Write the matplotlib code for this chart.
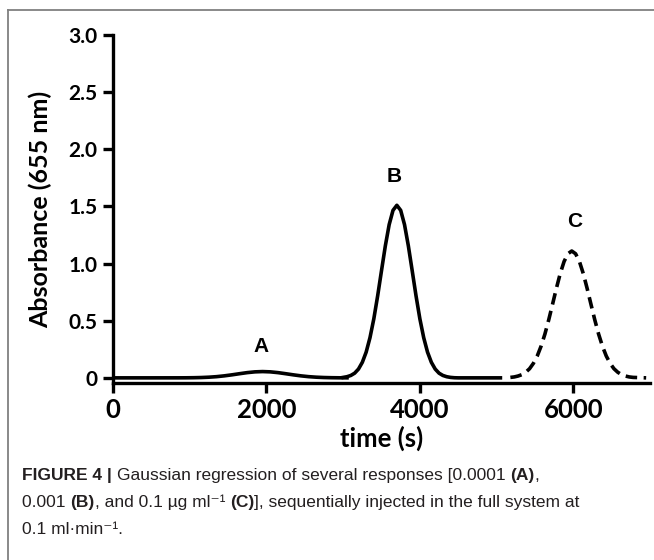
# -*- coding: utf-8 -*-
"""
Figure 4 - Gaussian regression of several responses (A, B, C)
"""

import matplotlib
matplotlib.use("Agg")
import matplotlib.pyplot as plt
from matplotlib.lines import Line2D
from matplotlib import font_manager

# ======================================================================
# 1. DATA
# ======================================================================
time_a = [0, 500, 850, 950, 1050, 1150, 1250, 1350, 1450, 1550, 1650, 1750,
          1850, 1950, 2050, 2150, 2250, 2350, 2450, 2550, 2650, 2750, 2850,
          2950, 3050]
abs_a = [0, 0, 0.0002, 0.0005, 0.0013, 0.0029, 0.0058, 0.0105, 0.0175, 0.0264,
         0.0364, 0.0458, 0.0525, 0.055, 0.0525, 0.0458, 0.0364, 0.0264, 0.0175,
         0.0105, 0.0058, 0.0029, 0.0013, 0.0005, 0.0002]

time_b = [3000, 3050, 3100, 3150, 3200, 3250, 3300, 3350, 3400, 3450, 3500,
          3550, 3600, 3650, 3700, 3750, 3800, 3850, 3900, 3950, 4000, 4050,
          4100, 4150, 4200, 4250, 4300, 4350, 4400, 4450, 4500, 5050]
abs_b = [0.004, 0.010, 0.021, 0.041, 0.077, 0.136, 0.225, 0.352, 0.517, 0.718,
         0.938, 1.155, 1.341, 1.466, 1.51, 1.466, 1.341, 1.155, 0.938, 0.718,
         0.517, 0.352, 0.225, 0.136, 0.077, 0.041, 0.021, 0.010, 0.004, 0.001,
         0, 0]

time_c = [5180, 5230, 5280, 5330, 5380, 5430, 5480, 5530, 5580, 5630, 5680,
          5730, 5780, 5830, 5880, 5930, 5980, 6030, 6080, 6130, 6180, 6230,
          6280, 6330, 6380, 6430, 6480, 6530, 6580, 6630, 6680, 6730, 6780,
          6950]
abs_c = [0.004, 0.008, 0.016, 0.028, 0.049, 0.080, 0.127, 0.191, 0.277, 0.383,
         0.508, 0.645, 0.784, 0.913, 1.018, 1.086, 1.11, 1.086, 1.018, 0.913,
         0.784, 0.645, 0.508, 0.383, 0.277, 0.191, 0.127, 0.080, 0.049, 0.028,
         0.016, 0.008, 0.004, 0]

peak_labels = ["A", "B", "C"]
peak_label_x = [1930, 3660, 6020]
peak_label_y = [0.27, 1.76, 1.37]

x_ticks = [0, 2000, 4000, 6000]
y_ticks = [0, 0.5, 1.0, 1.5, 2.0, 2.5, 3.0]
y_tick_labels = ["0", "0.5", "1.0", "1.5", "2.0", "2.5", "3.0"]

caption_lines = [
    [("FIGURE 4 | ", "bold"),
     ("Gaussian regression of several responses [0.0001 ", "normal"),
     ("(A)", "bold"), (",", "normal")],
    [("0.001 ", "normal"), ("(B)", "bold"),
     (", and 0.1 µg ml\u207b\u00b9 ", "normal"), ("(C)", "bold"),
     ("], sequentially injected in the full system at", "normal")],
    [("0.1 ml·min\u207b\u00b9.", "normal")],
]

# ======================================================================
# 2. FIGURE
# ======================================================================
W, H = 654, 560
fig = plt.figure(figsize=(W / 100, H / 100), dpi=100)

# thin frame (top and left)
fig.add_artist(Line2D([8 / W, 1], [1 - 10 / H, 1 - 10 / H], color="#808080", lw=1.3))
fig.add_artist(Line2D([8 / W, 8 / W], [0, 1 - 10 / H], color="#808080", lw=1.3))

ax = fig.add_axes([113 / W, 1 - 383 / H, 537 / W, 348 / H])

LW = 2.6
ax.plot(time_a, abs_a, color="black", lw=LW, solid_joinstyle="round")
ax.plot(time_b, abs_b, color="black", lw=LW, solid_joinstyle="round")
ax.plot(time_c, abs_c, color="black", lw=LW, linestyle=(0, (3.2, 1.8)))

for lab, lx, ly in zip(peak_labels, peak_label_x, peak_label_y):
    ax.text(lx, ly, lab, ha="center", va="center", fontsize=15,
            fontweight="bold", family="Liberation Sans")

ax.set_xlim(0, 7000)
ax.set_ylim(-0.045, 3.0)
for s in ("top", "right"):
    ax.spines[s].set_visible(False)
for s in ("left", "bottom"):
    ax.spines[s].set_linewidth(2.4)

ax.set_xticks(x_ticks)
ax.set_yticks(y_ticks)
ax.set_yticklabels(y_tick_labels)
ax.tick_params(axis="both", width=2.4, length=7, direction="out", pad=4)
for t in ax.get_xticklabels():
    t.set_fontfamily("Lato"); t.set_fontweight("bold"); t.set_fontsize(18.5)
for t in ax.get_yticklabels():
    t.set_fontfamily("Lato"); t.set_fontweight("bold"); t.set_fontsize(15)

ax.set_xlabel("time (s)", family="Lato", fontweight="bold", fontsize=18.5)
ax.xaxis.set_label_coords(0.5, (383 - 438) / 348)
ax.xaxis.label.set_va("center")
ax.set_ylabel("Absorbance (655 nm)", family="Lato", fontweight="bold", fontsize=18)
ax.yaxis.set_label_coords((40 - 113) / 537, 0.5)
ax.yaxis.label.set_va("center")

# ======================================================================
# 3. CAPTION (mixed bold / regular)
# ======================================================================
names = {f.name for f in font_manager.fontManager.ttflist}
if "Liberation Sans Narrow" in names:
    cap_family = ["Liberation Sans Narrow", "DejaVu Sans"]
    cap_size = 13.5
else:
    cap_family = ["Liberation Sans", "DejaVu Sans"]
    cap_size = 12.5

renderer = fig.canvas.get_renderer()
baselines = [480, 507, 534]
for parts, yb in zip(caption_lines, baselines):
    x = 22
    for txt, wt in parts:
        t = fig.text(x / W, 1 - yb / H, txt, fontsize=cap_size, fontweight=wt,
                     family=cap_family, color="#231f20", va="baseline", ha="left")
        x = t.get_window_extent(renderer).x1

fig.savefig("out.png", dpi=100, facecolor="white")
